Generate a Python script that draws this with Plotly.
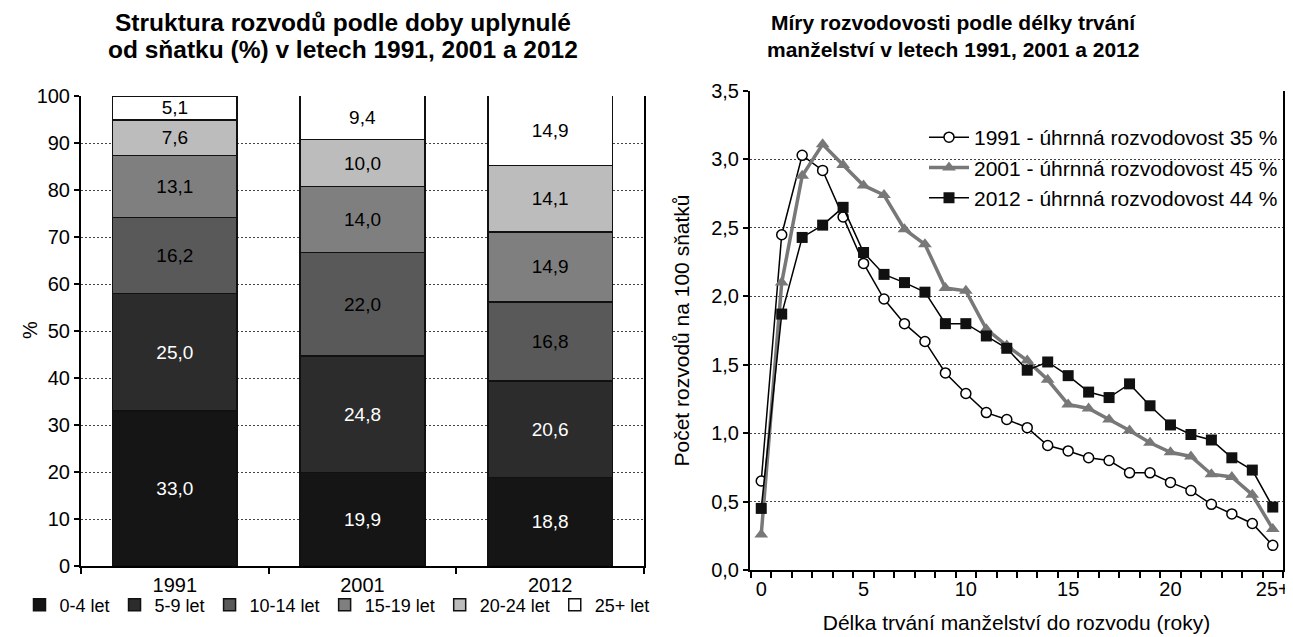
import plotly.graph_objects as go

# ---- left chart data ----
years = ["1991", "2001", "2012"]
groups = ["0-4 let", "5-9 let", "10-14 let", "15-19 let", "20-24 let", "25+ let"]
share_0_4 = [33.0, 19.9, 18.8]
share_5_9 = [25.0, 24.8, 20.6]
share_10_14 = [16.2, 22.0, 16.8]
share_15_19 = [13.1, 14.0, 14.9]
share_20_24 = [7.6, 10.0, 14.1]
share_25p = [5.1, 9.4, 14.9]
bar_colors = ["#151515", "#2c2c2c", "#595959", "#7f7f7f", "#bcbcbc", "#ffffff"]
label_colors = ["white", "white", "black", "black", "black", "black"]

# ---- right chart data ----
duration = list(range(26))
duration_ticks = [0, 5, 10, 15, 20, 25]
duration_ticktext = ["0", "5", "10", "15", "20", "25+"]
rate_1991 = [0.65, 2.45, 3.03, 2.92, 2.58, 2.24, 1.98, 1.80, 1.67, 1.44, 1.29, 1.15, 1.10,
             1.04, 0.91, 0.87, 0.82, 0.80, 0.71, 0.71, 0.64, 0.58, 0.48, 0.41, 0.34, 0.18]
rate_2001 = [0.26, 2.10, 2.88, 3.11, 2.96, 2.81, 2.74, 2.49, 2.38, 2.06, 2.04, 1.76, 1.64,
             1.53, 1.39, 1.21, 1.18, 1.10, 1.02, 0.93, 0.86, 0.83, 0.70, 0.68, 0.55, 0.30]
rate_2012 = [0.45, 1.87, 2.43, 2.52, 2.65, 2.32, 2.16, 2.10, 2.03, 1.80, 1.80, 1.71, 1.62,
             1.46, 1.52, 1.42, 1.30, 1.26, 1.36, 1.20, 1.06, 0.99, 0.95, 0.82, 0.73, 0.46]
series_names = ["1991 - úhrnná rozvodovost 35 %",
                "2001 - úhrnná rozvodovost 45 %",
                "2012 - úhrnná rozvodovost 44 %"]

FONT = "Liberation Sans, Arial, sans-serif"
OFF = 8                      # default page (body) margin of the html page
W, H = 1293 - OFF, 637 - OFF


def px_x(p):
    return (p - OFF) / W


def px_y(p):
    return 1 - (p - OFF) / H


fig = go.Figure()

shares = [share_0_4, share_5_9, share_10_14, share_15_19, share_20_24, share_25p]
for name, vals, col, lcol in zip(groups, shares, bar_colors, label_colors):
    fig.add_trace(go.Bar(
        x=years, y=vals, name=name, marker=dict(color=col, line=dict(color="#111", width=1.5)),
        width=0.665, texttemplate="%{y:.1f}", textposition="inside", insidetextanchor="middle",
        textangle=0, textfont=dict(size=19, color=lcol, family=FONT), constraintext="none",
        xaxis="x", yaxis="y", legend="legend", hoverinfo="skip"))

line_styles = [
    dict(line=dict(color="black", width=1.5),
         marker=dict(symbol="circle", size=10, color="white", line=dict(color="black", width=1.5))),
    dict(line=dict(color="#787878", width=3.5),
         marker=dict(symbol="triangle-up", size=12, color="#787878", line=dict(color="#787878", width=0))),
    dict(line=dict(color="black", width=1.5),
         marker=dict(symbol="square", size=11, color="#111111", line=dict(color="black", width=0))),
]
for i, (name, vals, st) in enumerate(zip(series_names, [rate_1991, rate_2001, rate_2012], line_styles)):
    fig.add_trace(go.Scatter(
        x=duration, y=vals, name=name, mode="lines+markers", line=st["line"], marker=st["marker"],
        xaxis="x2", yaxis="y2", legend="legend2", legendgroup=f"g{i}", cliponaxis=False))

grid = dict(showgrid=True, gridcolor="#444444", gridwidth=1, griddash="2px,2px")
tickfont = dict(size=20, color="black", family=FONT)

fig.update_layout(
    width=W, height=H, margin=dict(l=0, r=0, t=0, b=0, autoexpand=False),
    paper_bgcolor="white", plot_bgcolor="white",
    separators=", ", barmode="stack", bargap=0.335,
    font=dict(family=FONT, color="black", size=20),
    xaxis=dict(domain=[px_x(81), px_x(644)], type="category", tickson="boundaries",
               ticks="outside", ticklen=6, tickwidth=1.5, tickcolor="black", automargin=False,
               showline=True, linecolor="black", linewidth=2, tickfont=tickfont, showgrid=False,
               anchor="y"),
    yaxis=dict(domain=[px_y(566), px_y(96)], range=[0, 100], dtick=10, ticks="outside",
               ticklen=5, tickwidth=1.5, tickcolor="black", showline=True, linecolor="black",
               linewidth=2, mirror=True, tickfont=tickfont, anchor="x", automargin=False, **grid),
    xaxis2=dict(domain=[px_x(750), px_x(1283)], range=[-0.55, 25.5], tickmode="array",
                tickvals=duration_ticks, ticktext=duration_ticktext, ticks="", tickfont=tickfont,
                showline=True, linecolor="black", linewidth=2, showgrid=False, zeroline=False,
                automargin=False,
                minor=dict(ticks="outside", tick0=-0.5, dtick=1, ticklen=6, tickwidth=1.5,
                           tickcolor="black", showgrid=False),
                anchor="y2",
                title=dict(text="Délka trvání manželství do rozvodu (roky)", font=dict(size=21),
                           standoff=16)),
    yaxis2=dict(domain=[px_y(570), px_y(91)], range=[0, 3.5], dtick=0.5, tickformat=".1f",
                ticks="outside", ticklen=5, tickwidth=1.5, tickcolor="black", showline=True,
                linecolor="black", linewidth=2, mirror=True, tickfont=tickfont, zeroline=False,
                anchor="x2", automargin=False,
                title=dict(text="Počet rozvodů na 100 sňatků", font=dict(size=21), standoff=16),
                **grid),
    legend=dict(orientation="h", x=px_x(337), xanchor="center", y=px_y(605), yanchor="middle",
                font=dict(size=18), itemwidth=30, traceorder="normal", bgcolor="rgba(0,0,0,0)"),
    legend2=dict(x=px_x(1283), xanchor="right", y=px_y(117), yanchor="top",
                 font=dict(size=21), tracegroupgap=0, bgcolor="rgba(255,255,255,0)",
                 itemwidth=40),
    showlegend=True,
)

for text, x, y, size in [
    ("<b>Struktura rozvodů podle doby uplynulé</b>", 343, 22, 24.5),
    ("<b>od sňatku (%) v letech 1991, 2001 a 2012</b>", 343, 49, 24.5),
    ("<b>Míry rozvodovosti podle délky trvání</b>", 953, 22, 21),
    ("<b>manželství v letech 1991, 2001 a 2012</b>", 953, 49, 21),
]:
    fig.add_annotation(text=text, xref="paper", yref="paper", x=px_x(x), y=px_y(y),
                       xanchor="center", yanchor="middle", showarrow=False,
                       font=dict(size=size, family=FONT, color="black"))

# y-axis title of the left chart
fig.add_annotation(text="%", xref="paper", yref="paper", x=px_x(30), y=px_y(330),
                   xanchor="center", yanchor="middle", textangle=-90, showarrow=False,
                   font=dict(size=20, family=FONT, color="black"))

fig.write_html("out.html")
